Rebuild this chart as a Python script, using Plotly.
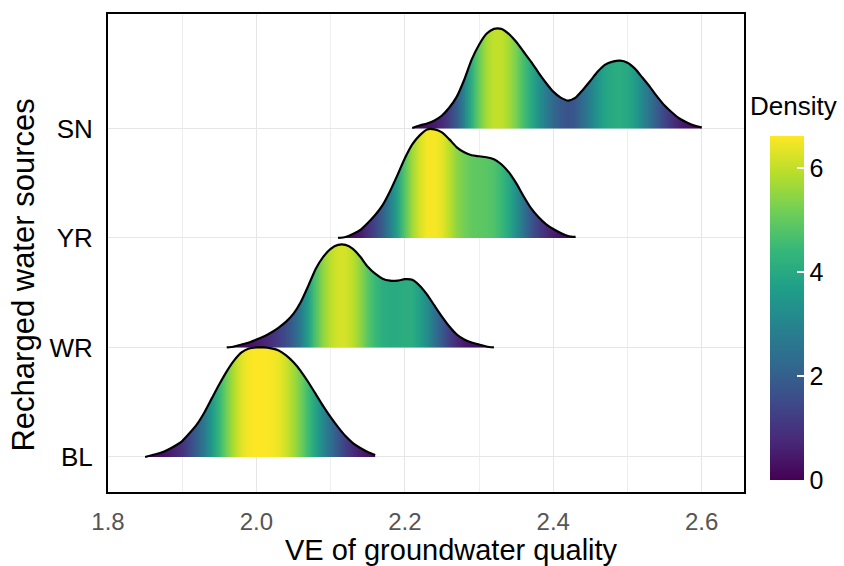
import plotly.graph_objects as go
from plotly.colors import sample_colorscale

# ---------------- data ----------------
categories = ["BL", "WR", "YR", "SN"]
tick_labels_y = ["BL", "WR", "YR", "SN"]
x_ticks = [1.8, 2.0, 2.2, 2.4, 2.6]

# density grid: start value per group, 0.01 spacing
x_start_BL = 1.85
x_start_WR = 1.96
x_start_YR = 2.11
x_start_SN = 2.21
x_step = 0.01

dens_BL = [0, 0.12, 0.24, 0.42, 0.66, 0.96, 1.44, 1.98, 2.70, 3.55,
           4.39, 5.17, 5.83, 6.31, 6.55, 6.61, 6.61, 6.55, 6.43, 6.13,
           5.71, 5.17, 4.51, 3.79, 3.07, 2.40, 1.80, 1.26, 0.84, 0.54,
           0.30, 0.12]
dens_WR = [0, 0.06, 0.18, 0.30, 0.48, 0.66, 0.90, 1.20, 1.56, 2.04,
           2.76, 3.73, 4.75, 5.47, 5.95, 6.19, 6.19, 5.95, 5.47, 4.87,
           4.45, 4.15, 4.03, 4.03, 4.12, 4.09, 3.73, 3.19, 2.52, 1.86,
           1.26, 0.78, 0.48, 0.30, 0.18, 0.06, 0]
dens_YR = [0.0, 0.06, 0.24, 0.48, 0.90, 1.38, 1.98, 2.82, 3.79, 4.81,
           5.65, 6.19, 6.55, 6.55, 6.37, 5.95, 5.47, 5.17, 4.99, 4.93,
           4.87, 4.75, 4.45, 3.97, 3.31, 2.52, 1.80, 1.26, 0.84, 0.54,
           0.30, 0.12, 0.06]
dens_SN = [0.03, 0.18, 0.30, 0.48, 0.78, 1.26, 1.92, 2.94, 4.15, 5.05,
           5.71, 6.01, 6.01, 5.71, 5.23, 4.63, 4.03, 3.37, 2.76, 2.22,
           1.86, 1.68, 1.86, 2.34, 2.88, 3.43, 3.85, 4.03, 4.09, 3.97,
           3.61, 3.07, 2.52, 1.92, 1.38, 0.96, 0.60, 0.36, 0.18, 0.06]

density_max = 6.61  # top of colour scale / ridge scaling

groups = {
    "BL": (x_start_BL, dens_BL),
    "WR": (x_start_WR, dens_WR),
    "YR": (x_start_YR, dens_YR),
    "SN": (x_start_SN, dens_SN),
}

# ---------------- figure ----------------
FONT = "Liberation Sans, Arial, Helvetica, sans-serif"
fig = go.Figure()

# draw top ridge first so lower ridges overlay
for idx in reversed(range(len(categories))):
    cat = categories[idx]
    base = idx + 1
    x0, dens = groups[cat]
    xs = [round(x0 + i * x_step, 4) for i in range(len(dens))]
    ys = [base + d / density_max for d in dens]
    xmin, xmax = xs[0], xs[-1]
    cols = sample_colorscale("Viridis", [min(d / density_max, 1.0) for d in dens])
    cscale = [[(x - xmin) / (xmax - xmin), c] for x, c in zip(xs, cols)]
    cscale[0][0] = 0.0
    cscale[-1][0] = 1.0
    fig.add_trace(go.Scatter(
        x=xs + [xmax, xmin], y=ys + [base, base],
        mode="lines", fill="toself",
        line=dict(width=0, color="rgba(0,0,0,0)"),
        fillgradient=dict(type="horizontal", colorscale=cscale, start=xmin, stop=xmax),
        hoverinfo="skip", showlegend=False,
    ))
    fig.add_trace(go.Scatter(
        x=xs, y=ys, mode="lines",
        line=dict(color="black", width=2.2, shape="spline", smoothing=0.6),
        hoverinfo="skip", showlegend=False,
    ))

# colour bar
fig.add_trace(go.Scatter(
    x=[None], y=[None], mode="markers",
    marker=dict(colorscale="Viridis", cmin=0, cmax=density_max, color=[0],
                showscale=True,
                colorbar=dict(
                    x=1.041, xanchor="left", xpad=0, ypad=0,
                    y=0.384, yanchor="middle",
                    len=0.719, lenmode="fraction",
                    thickness=34, thicknessmode="pixels",
                    outlinewidth=0,
                    tickvals=[0, 2, 4, 6],
                    ticks="inside", ticklen=7, tickcolor="white", tickwidth=1.5,
                    tickfont=dict(family=FONT, size=25, color="black"),
                )),
    hoverinfo="skip", showlegend=False,
))

fig.update_layout(
    width=844, height=566,
    margin=dict(l=107.5, r=100, t=12, b=74),
    paper_bgcolor="white", plot_bgcolor="white",
    font=dict(family=FONT),
    xaxis=dict(
        range=[1.8, 2.657], tickvals=x_ticks,
        ticktext=[f"{v:.1f}" for v in x_ticks],
        showgrid=True, gridcolor="#e6e6e6", gridwidth=1,
        minor=dict(dtick=0.1, tick0=1.8, showgrid=True, gridcolor="#eeeeee", gridwidth=1),
        zeroline=False,
        showline=True, linecolor="black", linewidth=2, mirror=True,
        ticks="", ticklabelstandoff=7,
        tickfont=dict(family=FONT, size=24, color="#555555"),
    ),
    yaxis=dict(
        range=[0.68, 5.045], tickvals=[1, 2, 3, 4], ticktext=tick_labels_y,
        showgrid=True, gridcolor="#e6e6e6", gridwidth=1,
        zeroline=False,
        showline=True, linecolor="black", linewidth=2, mirror=True,
        ticks="", ticklabelstandoff=8,
        tickfont=dict(family=FONT, size=26, color="black"),
    ),
    annotations=[
        dict(text="VE of groundwater quality", xref="paper", yref="paper",
             x=0.5397, y=-0.122, xanchor="center", yanchor="middle",
             showarrow=False, font=dict(family=FONT, size=29, color="black")),
        dict(text="Recharged water sources", xref="paper", yref="paper",
             x=-0.1328, y=0.454, xanchor="center", yanchor="middle", textangle=-90,
             showarrow=False, font=dict(family=FONT, size=31, color="black")),
        dict(text="Density", xref="paper", yref="paper",
             x=1.006, y=0.808, xanchor="left", yanchor="middle",
             showarrow=False, font=dict(family=FONT, size=26, color="black")),
    ],
)

fig.write_html("out.html")
